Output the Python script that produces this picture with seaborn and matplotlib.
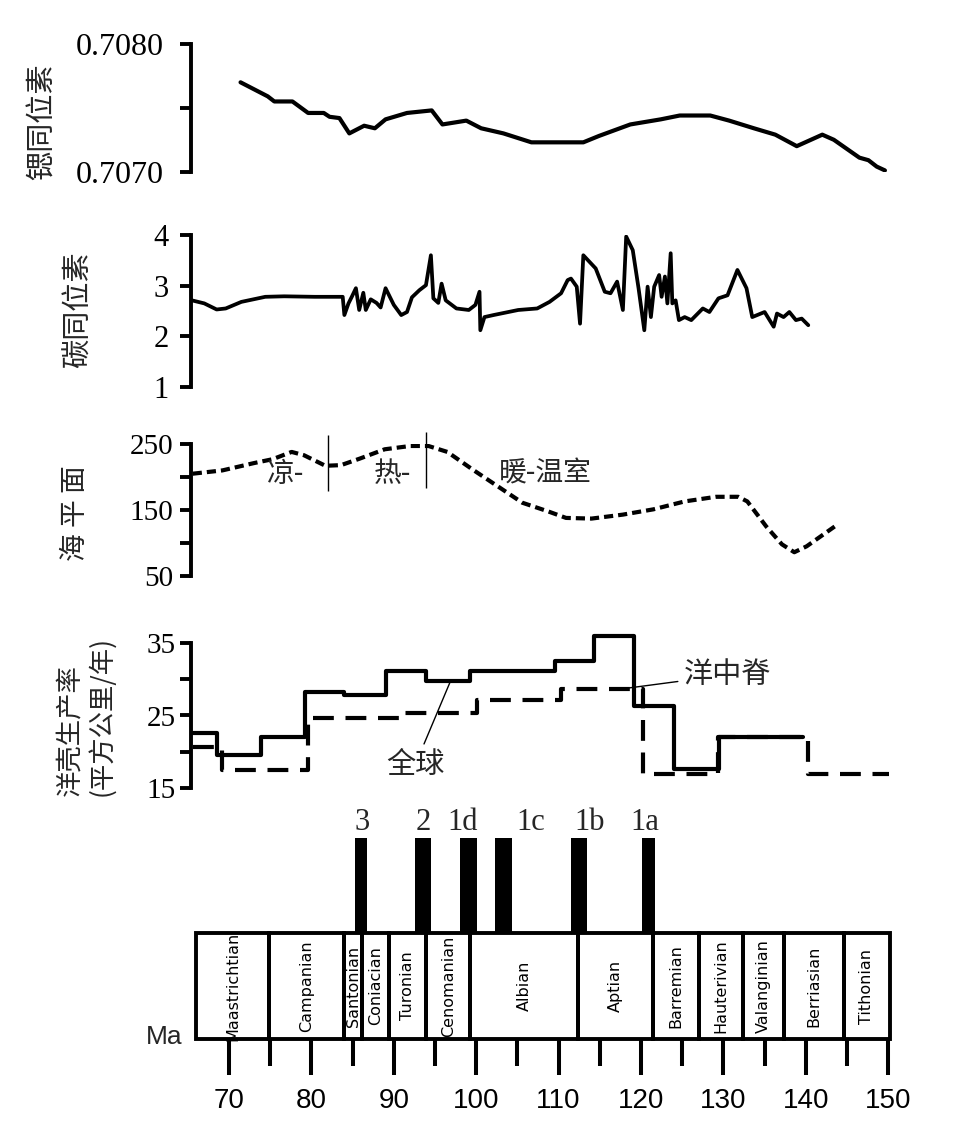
import matplotlib
matplotlib.use("Agg")
import matplotlib.pyplot as plt
import seaborn as sns

# ---------------- data (age in Ma) ----------------
sr_age = [71.4, 72.9, 74.7, 75.5, 77.7, 79.6, 81.5, 82.2, 83.4, 84.6, 86.4, 87.7,
          89.0, 91.6, 94.6, 95.9, 98.8, 100.6, 103.3, 106.7, 113.0, 114.9, 118.7,
          122.4, 124.7, 128.4, 130.7, 133.7, 136.3, 138.9, 142.0, 143.4, 146.5,
          147.6, 148.6, 149.6]
sr_val = [0.70770, 0.70765, 0.70759, 0.70755, 0.70755, 0.70746, 0.70746, 0.70743,
          0.70742, 0.70730, 0.70736, 0.70734, 0.70741, 0.70746, 0.70748, 0.70737,
          0.70740, 0.70734, 0.70730, 0.70723, 0.70723, 0.70728, 0.70737, 0.70741,
          0.70744, 0.70744, 0.70740, 0.70734, 0.70729, 0.70720, 0.70729, 0.70725,
          0.70711, 0.70709, 0.70704, 0.70701]

c_age = [65.5, 67.0, 68.5, 69.6, 71.5, 74.4, 76.7, 80.4, 83.8, 84.0, 84.5, 84.9,
         85.4, 85.8, 86.3, 86.6, 87.2, 87.9, 88.4, 89.0, 90.0, 90.9, 91.6, 92.2,
         93.1, 93.9, 94.5, 94.8, 95.4, 95.8, 96.3, 97.6, 99.1, 99.9, 100.4, 100.5,
         101.0, 102.1, 105.1, 107.4, 108.9, 110.3, 111.1, 111.5, 112.2, 112.6,
         113.0, 114.5, 115.6, 116.3, 117.1, 117.8, 118.2, 119.0, 119.7, 120.4,
         120.8, 121.2, 121.6, 122.2, 122.5, 122.9, 123.2, 123.6, 123.8, 124.2,
         124.6, 125.3, 126.1, 127.5, 128.3, 129.4, 130.5, 131.7, 132.8, 133.5,
         135.0, 136.1, 136.5, 137.3, 138.0, 138.8, 139.5, 140.3]
c_val = [2.71, 2.65, 2.53, 2.55, 2.68, 2.78, 2.79, 2.78, 2.78, 2.42, 2.65, 2.78,
         2.95, 2.52, 2.86, 2.52, 2.73, 2.66, 2.57, 2.95, 2.62, 2.42, 2.48, 2.77,
         2.91, 3.01, 3.60, 2.75, 2.66, 3.04, 2.71, 2.55, 2.52, 2.62, 2.88, 2.12,
         2.38, 2.42, 2.52, 2.55, 2.68, 2.85, 3.11, 3.14, 2.98, 2.25,
         3.60, 3.34, 2.88, 2.85, 3.08, 2.52, 3.97, 3.70, 2.95, 2.12,
         2.98, 2.38, 2.98, 3.21, 2.78, 3.18, 2.65, 3.64, 2.65, 2.71,
         2.32, 2.38, 2.32, 2.55, 2.48, 2.75, 2.81, 3.31, 2.95, 2.38,
         2.48, 2.19, 2.45, 2.38, 2.48, 2.32, 2.35, 2.22]

sl_age = [65.6, 69.2, 73.0, 75.3, 77.6, 79.1, 81.7, 83.6, 85.9, 88.9, 92.0, 94.2,
          96.5, 99.6, 102.6, 105.6, 108.7, 110.9, 114.0, 117.8, 121.5, 125.3,
          129.1, 131.8, 132.9, 135.2, 137.1, 138.6, 140.1, 143.5]
sl_val = [205, 210, 221, 227, 238, 233, 217, 218, 228, 242, 247, 247,
          238, 211, 186, 161, 148, 138, 137, 143, 151, 163,
          170, 170, 163, 125, 98, 86, 95, 125]

# ocean crust production, step edges and values
glob_edges = [65.6, 68.6, 73.9, 79.2, 84.0, 89.1, 93.9, 99.3, 109.6, 114.3, 119.2,
              124.0, 129.5, 139.7]
glob_vals = [22.6, 19.6, 22.1, 28.3, 27.8, 31.2, 29.8, 31.2, 32.5, 35.9, 26.3, 17.6, 22.1]
ridge_edges = [65.6, 69.2, 79.6, 91.0, 100.1, 110.3, 120.2, 129.3, 140.3, 150.1]
ridge_vals = [20.7, 17.5, 24.7, 25.3, 27.1, 28.6, 17.0, 22.0, 16.9]

# stages
stage_edges = [66.0, 74.9, 84.0, 86.1, 89.4, 93.9, 99.3, 112.3, 121.4, 127.0,
               132.4, 137.3, 144.6, 150.2]
stage_names = ["Maastrichtian", "Campanian", "Santonian", "Coniacian", "Turonian",
               "Cenomanian", "Albian", "Aptian", "Barremian", "Hauterivian",
               "Valanginian", "Berriasian", "Tithonian"]

# anoxic events
oae_names = ["3", "2", "1d", "1c", "1b", "1a"]
oae_center = [86.05, 93.55, 99.05, 103.3, 112.45, 120.9]
oae_width = [1.5, 1.9, 2.1, 2.0, 1.9, 1.6]
oae_label_x = [86.1, 93.6, 98.4, 106.6, 113.8, 120.5]

# ---------------- style ----------------
sns.set_theme(style="white")
plt.rcParams["font.family"] = ["Noto Sans CJK SC", "DejaVu Sans"]
SERIF = ["Liberation Serif", "DejaVu Serif"]
SANS = ["Liberation Sans", "DejaVu Sans"]
CJK = ["Noto Sans CJK SC", "DejaVu Sans"]

W, H = 975, 1138
X0, X1 = 65.4, 152.0
LEFT, RIGHT = 191.1, 904.7

fig = plt.figure(figsize=(W / 100, H / 100), dpi=100)


def panel(top, bottom):
    ax = fig.add_axes([LEFT / W, 1 - bottom / H, (RIGHT - LEFT) / W, (bottom - top) / H])
    ax.set_facecolor("none")
    for s in ["top", "right", "bottom"]:
        ax.spines[s].set_visible(False)
    ax.spines["left"].set_linewidth(2.8)
    ax.spines["left"].set_color("black")
    ax.tick_params(axis="y", left=True, direction="out", length=8, width=2.8, colors="black")
    return ax


def finish(ax):
    ax.set_xlim(X0, X1)
    ax.set_xticks([])
    ax.set_xlabel("")
    ax.set_ylabel("")


# panel 1: Sr isotopes
ax1 = panel(44, 171.7)
sns.lineplot(x=sr_age, y=sr_val, ax=ax1, color="black", lw=3.0, estimator=None, sort=False)
ax1.set_ylim(0.7070, 0.7080)
ax1.set_yticks([0.7070, 0.7075, 0.7080], ["0.7070", "", "0.7080"], fontfamily=SERIF, fontsize=23)
ax1.tick_params(axis="y", pad=12)
finish(ax1)

# panel 2: C isotopes
ax2 = panel(235, 387)
sns.lineplot(x=c_age, y=c_val, ax=ax2, color="black", lw=2.7, estimator=None, sort=False)
ax2.set_ylim(1, 4)
ax2.set_yticks([1, 2, 3, 4], ["1", "2", "3", "4"], fontfamily=SERIF, fontsize=22)
ax2.tick_params(axis="y", pad=8)
finish(ax2)

# panel 3: sea level
ax3 = panel(444, 576)
sns.lineplot(x=sl_age, y=sl_val, ax=ax3, color="black", lw=3.0, estimator=None, sort=False)
ax3.lines[-1].set_linestyle((0, (2.2, 1.2)))
ax3.set_ylim(50, 250)
ax3.set_yticks([50, 100, 150, 200, 250], ["50", "", "150", "", "250"], fontfamily=SERIF, fontsize=21)
ax3.tick_params(axis="y", pad=5)
ax3.vlines([82.0, 93.9], [179, 183], [264, 268], color="black", lw=1.0, clip_on=False)
ax3.text(74.6, 205, "凉-", ha="left", va="center", fontsize=20, family=CJK)
ax3.text(87.6, 205, "热-", ha="left", va="center", fontsize=20, family=CJK)
ax3.text(102.7, 205, "暖-温室", ha="left", va="center", fontsize=20, family=CJK)
finish(ax3)

# panel 4: ocean crust production
ax4 = panel(643, 788)
sns.lineplot(x=glob_edges, y=glob_vals + [glob_vals[-1]], ax=ax4, color="black", lw=3.0,
             estimator=None, sort=False, drawstyle="steps-post", clip_on=False)
sns.lineplot(x=ridge_edges, y=ridge_vals + [ridge_vals[-1]], ax=ax4, color="black", lw=3.0,
             estimator=None, sort=False, drawstyle="steps-post", clip_on=False)
ax4.lines[-1].set_linestyle((0, (5.0, 2.8)))
ax4.set_ylim(15, 35)
ax4.set_yticks([15, 20, 25, 30, 35], ["15", "", "25", "", "35"], fontfamily=SERIF, fontsize=21)
ax4.tick_params(axis="y", pad=3)
ax4.annotate("全球", xy=(96.9, 29.8), xytext=(92.6, 18.2), ha="center", va="center",
             fontsize=21, family=CJK, arrowprops=dict(arrowstyle="-", lw=1.0, color="black",
                                                     shrinkA=2, shrinkB=0))
ax4.annotate("洋中脊", xy=(117.2, 28.6), xytext=(125.2, 30.6), ha="left", va="center",
             fontsize=21, family=CJK, arrowprops=dict(arrowstyle="-", lw=1.0, color="black",
                                                     shrinkA=2, shrinkB=0))
finish(ax4)

# y labels
fig.text(43 / W, 1 - 122 / H, "锶同位素", rotation=90, ha="center", va="center",
         fontsize=21, family=CJK)
fig.text(79 / W, 1 - 310 / H, "碳同位素", rotation=90, ha="center", va="center",
         fontsize=21, family=CJK)
fig.text(75 / W, 1 - 513 / H, "海 平 面", rotation=90, ha="center", va="center",
         fontsize=20, family=CJK)
fig.text(86 / W, 1 - 716 / H, "洋壳生产率\n(平方公里/年)", rotation=90, ha="center",
         va="center", multialignment="left", linespacing=1.2, fontsize=19, family=CJK)

# bottom: events + stage boxes + age axis
axb = fig.add_axes([LEFT / W, 1 - 1039 / H, (RIGHT - LEFT) / W, (1039 - 805) / H])
axb.set_facecolor("none")
BOX_H = 106
BAR_H = 95
axb.set_ylim(0, 234)
starts = stage_edges[:-1]
widths = [b - a for a, b in zip(stage_edges[:-1], stage_edges[1:])]
axb.bar(starts, [BOX_H] * len(starts), width=widths, align="edge", facecolor="none",
        edgecolor="black", linewidth=2.8, clip_on=False)
for s, w, name in zip(starts, widths, stage_names):
    axb.text(s + w / 2, BOX_H / 2, name, rotation=90, ha="center", va="center",
             fontsize=11.5, family=["DejaVu Sans"], color="black")
axb.bar(oae_center, [BAR_H] * len(oae_center), width=oae_width, bottom=BOX_H,
        color="black", linewidth=0)
for x, name in zip(oae_label_x, oae_names):
    axb.text(x, 217, name, ha="center", va="center", fontsize=22, family=SERIF)
axb.text(64.4, 2, "Ma", ha="right", va="center", fontsize=19, family=SANS)

for s in axb.spines.values():
    s.set_visible(False)
axb.set_xlim(X0, X1)
axb.set_xticks(list(range(70, 151, 10)), [str(v) for v in range(70, 151, 10)],
               fontfamily=SANS, fontsize=20)
axb.set_xticks(list(range(75, 150, 10)), minor=True)
axb.set_yticks([])
axb.tick_params(axis="x", which="major", bottom=True, direction="out", length=26,
                width=2.9, pad=9, colors="black")
axb.tick_params(axis="x", which="minor", bottom=True, direction="out", length=19.5,
                width=2.9, colors="black")

fig.savefig("out.png", dpi=100)
